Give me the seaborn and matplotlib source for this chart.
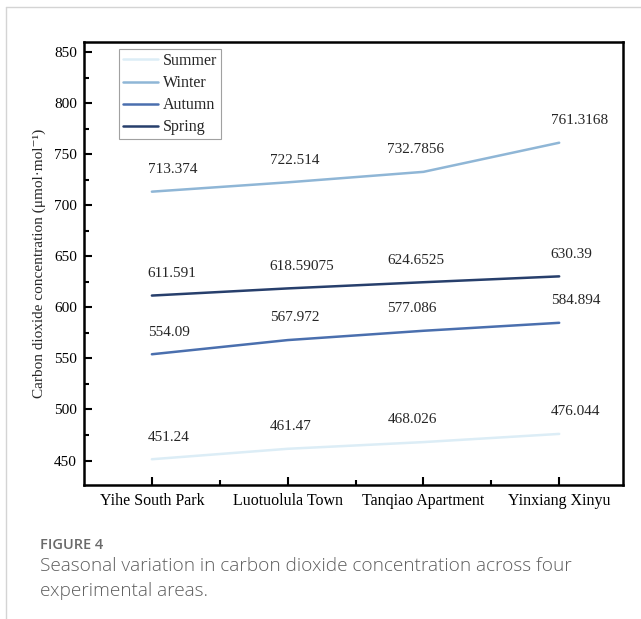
import numpy as np
import pandas as pd
import matplotlib
matplotlib.use("Agg")
import matplotlib.pyplot as plt
import seaborn as sns
from matplotlib.ticker import MultipleLocator, FixedLocator
from matplotlib.lines import Line2D

# ----------------------- DATA -----------------------
sites = ["Yihe South Park", "Luotuolula Town", "Tanqiao Apartment", "Yinxiang Xinyu"]
seasons = ["Summer", "Winter", "Autumn", "Spring"]
summer = [451.24, 461.47, 468.026, 476.044]
winter = [713.374, 722.514, 732.7856, 761.3168]
autumn = [554.09, 567.972, 577.086, 584.894]
spring = [611.591, 618.59075, 624.6525, 630.39]
season_colors = ["#dcedf6", "#8fb6d6", "#4a6fae", "#273f6c"]

df = pd.DataFrame({
    "site": sites * 4,
    "season": np.repeat(seasons, len(sites)),
    "co2": summer + winter + autumn + spring,
})

# ----------------------- STYLE -----------------------
sns.set_style("ticks")
plt.rcParams['font.family'] = ['Liberation Serif', 'DejaVu Serif']

fig = plt.figure(figsize=(6.41, 6.19), dpi=100)
ax = fig.add_axes([84 / 641, 1 - 485 / 619, 539 / 641, 443 / 619])

sns.lineplot(data=df, x="site", y="co2", hue="season", hue_order=seasons,
             palette=season_colors, linewidth=1.8, sort=False, ax=ax)

# value labels, nudged per column like the original
col_dx = [-3, -13, -26, -6]
for i, row in df.iterrows():
    j = sites.index(row["site"])
    ax.annotate(str(row["co2"]), xy=(j, row["co2"]), xytext=(col_dx[j], 16),
                textcoords="offset points", ha="left", va="center", fontsize=11)

ax.set_xlim(-0.5, 3.47)
ax.set_ylim(426, 860)
ax.yaxis.set_major_locator(MultipleLocator(50))
ax.yaxis.set_minor_locator(MultipleLocator(25))
ax.xaxis.set_minor_locator(FixedLocator([0.5, 1.5, 2.5]))
ax.tick_params(which="both", direction="in", width=1.5, top=False, right=False, colors="black")
ax.tick_params(which="major", length=6)
ax.tick_params(which="minor", length=3.5)
ax.tick_params(axis="y", labelsize=11, pad=5)
ax.tick_params(axis="x", labelsize=11.5, pad=6)
for s in ax.spines.values():
    s.set_linewidth(1.8)
    s.set_color("black")

ax.set_xlabel("")
ax.set_ylabel("Carbon dioxide concentration (μmol·mol⁻¹)", fontsize=11, labelpad=6)

leg = ax.legend(loc="upper left", bbox_to_anchor=(0.065, 0.984), borderaxespad=0,
                fancybox=False, edgecolor="#8a8a8a", fontsize=11.5, handlelength=2.2,
                handletextpad=0.3, labelspacing=0.38, borderpad=0.25, title=None)
leg.get_frame().set_linewidth(0.8)

# page frame lines
fig.add_artist(Line2D([6 / 641, 1], [1 - 7 / 619] * 2, transform=fig.transFigure,
                      color="#d4d4d4", lw=1))
fig.add_artist(Line2D([6 / 641] * 2, [0, 1 - 7 / 619], transform=fig.transFigure,
                      color="#d4d4d4", lw=1))

# caption
fig.text(40 / 641, 1 - 545 / 619, "FIGURE 4", family="Open Sans", fontsize=10.5,
         color="#6a6a6a", weight="semibold", va="center")
fig.text(40 / 641, 1 - 566 / 619,
         "Seasonal variation in carbon dioxide concentration across four",
         family="Open Sans", fontsize=13.7, color="#5e5e5e", weight="light", va="center")
fig.text(40 / 641, 1 - 591 / 619, "experimental areas.",
         family="Open Sans", fontsize=13.7, color="#5e5e5e", weight="light", va="center")

fig.savefig("out.png", dpi=100, facecolor="white")
